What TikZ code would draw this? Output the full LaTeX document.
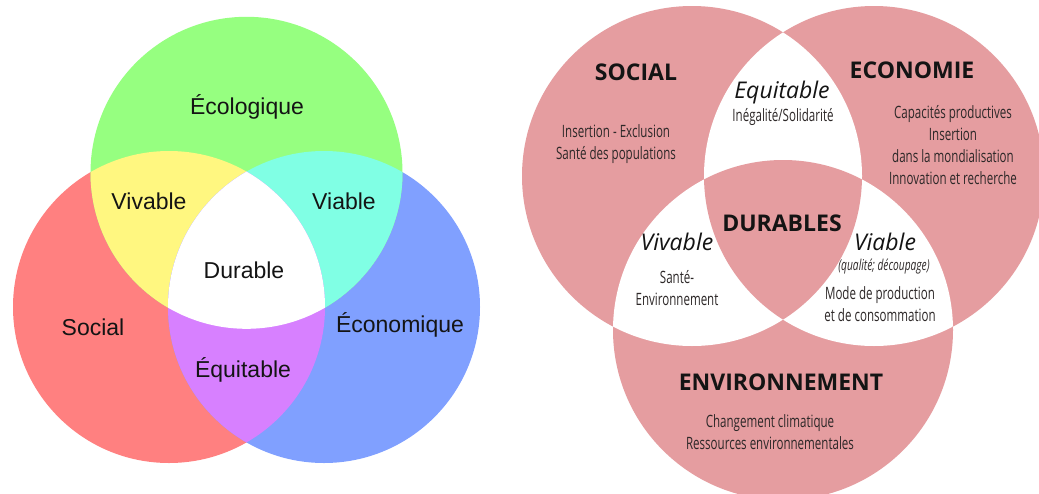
\documentclass[tikz,border=0pt]{standalone}
\usepackage{fontspec}
\setmainfont{Liberation Sans}
\newfontfamily\osans{Open Sans}
\newfontfamily\ocond[FakeStretch=0.68]{Open Sans}
\definecolor{cgreen}{RGB}{150,255,128}
\definecolor{cred}{RGB}{255,128,128}
\definecolor{cblue}{RGB}{128,160,255}
\definecolor{cyellow}{RGB}{255,247,128}
\definecolor{ccyan}{RGB}{128,255,228}
\definecolor{cpurple}{RGB}{215,128,255}
\definecolor{cpink}{RGB}{229,157,160}
\definecolor{ctxt}{RGB}{20,20,20}
\definecolor{csmall}{RGB}{45,40,40}
\tikzset{
  lab/.style={inner sep=0pt, font=\fontsize{23}{27}\selectfont, text=ctxt},
  head/.style={inner sep=0pt, font=\osans\bfseries\fontsize{23}{27}\selectfont, text=ctxt},
  ital/.style={inner sep=0pt, font=\osans\itshape\fontsize{23}{27}\selectfont, text=ctxt},
  smalltxt/.style={inner sep=0pt, align=center, font=\ocond\fontsize{17}{22}\selectfont, text=csmall},
  tinyital/.style={inner sep=0pt, font=\ocond\itshape\fontsize{15}{18}\selectfont, text=csmall},
}
\begin{document}
\begin{tikzpicture}[x=1pt,y=-1pt]
\useasboundingbox (0,0) rectangle (1039,493);
\clip (0,0) rectangle (1039,493);
\fill[white] (0,0) rectangle (1039,493);
% ---------- left Venn ----------
\coordinate (G) at (246.5,172.8);
\coordinate (R) at (169,307);
\coordinate (B) at (324,307);
\def\rl{156pt}
\fill[cred] (R) circle (\rl);
\fill[cblue] (B) circle (\rl);
\fill[cgreen] (G) circle (\rl);
\begin{scope}\clip (G) circle (\rl); \fill[cyellow] (R) circle (\rl);\end{scope}
\begin{scope}\clip (G) circle (\rl); \fill[ccyan] (B) circle (\rl);\end{scope}
\begin{scope}\clip (R) circle (\rl); \fill[cpurple] (B) circle (\rl);\end{scope}
\begin{scope}\clip (G) circle (\rl); \clip (R) circle (\rl); \fill[white] (B) circle (\rl);\end{scope}
\node[lab] (eco) at (247,107) {Écologique};
\node[lab] (viv) at (149,201) {Vivable};
\node[lab] (via) at (344,201) {Viable};
\node[lab] (dur) at (244,270) {Durable};
\node[lab] (soc) at (93,327) {Social};
\node[lab] (econ) at (400,325) {Économique};
\node[lab] (equ) at (243,370) {Équitable};
% ---------- right Venn ----------
\coordinate (S) at (692,176);
\coordinate (E) at (874,176);
\coordinate (V) at (783,330);
\def\rr{170pt}
\fill[cpink] (S) circle (\rr);
\fill[cpink] (E) circle (\rr);
\fill[cpink] (V) circle (\rr);
\begin{scope}\clip (S) circle (\rr); \fill[white] (E) circle (\rr);\end{scope}
\begin{scope}\clip (S) circle (\rr); \fill[white] (V) circle (\rr);\end{scope}
\begin{scope}\clip (E) circle (\rr); \fill[white] (V) circle (\rr);\end{scope}
\begin{scope}\clip (S) circle (\rr); \clip (E) circle (\rr); \fill[cpink] (V) circle (\rr);\end{scope}
\node[head] (hsoc) at (636,72) {SOCIAL};
\node[head] (hecon) at (912,70) {ECONOMIE};
\node[head] (hdur) at (782,223) {DURABLES};
\node[head] (henv) at (781,382) {ENVIRONNEMENT};
\node[ital] (iequ) at (782,93) {Equitable};
\node[ital] (iviv) at (677,242) {Vivable};
\node[ital] (ivia) at (885,242) {Viable};
\node[smalltxt] (tequ) at (783,117) {Inégalité/Solidarité};
\node[smalltxt] (tsoc) at (616,144) {Insertion - Exclusion\\Santé des populations};
\node[smalltxt] (tecon) at (953,145) {Capacités productives\\Insertion\\dans la mondialisation\\Innovation et recherche};
\node[tinyital] (tqual) at (884,267) {(qualité; découpage)};
\node[smalltxt] (tviv) at (677,288) {Santé-\\Environnement};
\node[smalltxt] (tvia) at (880,304.5) {Mode de production\\et de consommation};
\node[smalltxt] (tenv) at (770,432) {Changement climatique\\Ressources environnementales};
\end{tikzpicture}
\end{document}
